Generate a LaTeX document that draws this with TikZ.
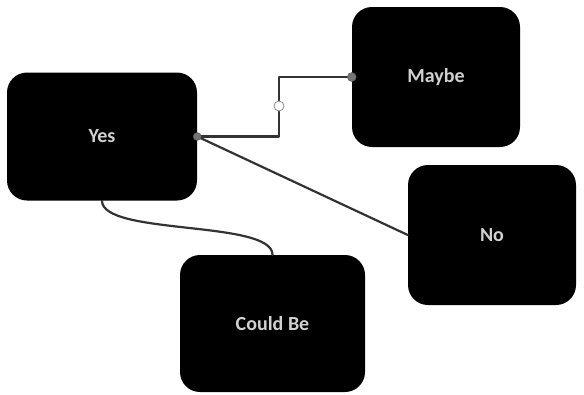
\documentclass[tikz,border=0pt]{standalone}
\usepackage{fontspec}
\setmainfont{Carlito}
\usetikzlibrary{calc}

\tikzset{
  card/.style={fill=black, rounded corners=20pt, inner sep=0pt,
    text=black!18, font=\fontsize{20}{24}\selectfont\bfseries},
  link/.style={draw=black!80, line width=2.2pt},
  joint/.style={fill=black!55, draw=black!65}
}

\begin{document}
\begin{tikzpicture}[x=1pt, y=-1pt, line cap=round, line join=round]
  \useasboundingbox (0,0) rectangle (584,394);
  \node[card, minimum width=190pt, minimum height=128pt] (yes) at (102,136.5) {Yes};
  \node[card, minimum width=168pt, minimum height=140pt] (maybe) at (436,77) {Maybe};
  \node[card, minimum width=168pt, minimum height=140pt] (no) at (492,235) {No};
  \node[card, minimum width=185pt, minimum height=137pt] (could) at (272.5,323.5) {Could Be};

  \coordinate (bend) at (279,106);
  \draw[link] (yes.east) -| (bend) |- (maybe.west);
  \draw[link] (yes.east) -- (no.west);
  \draw[link] (yes.south) .. controls +(0,35) and +(0,-35) .. (could.north);

  % connector handles
  \fill[joint] (yes.east) circle (4pt);
  \fill[joint] (maybe.west) circle (4.5pt);
  \draw[black!45, fill=white, line width=0.8pt] (bend) circle (5pt);
\end{tikzpicture}
\end{document}
